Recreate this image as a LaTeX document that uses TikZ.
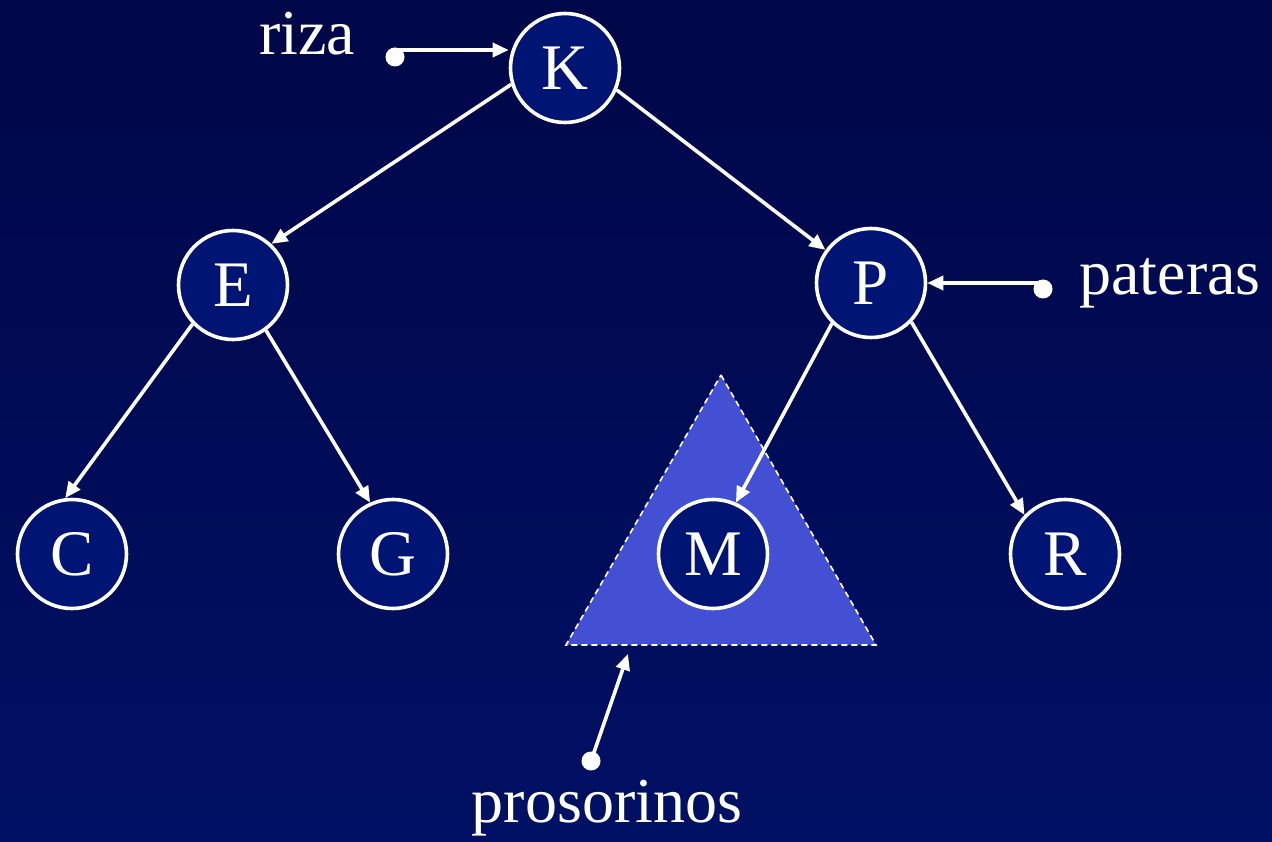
\documentclass[tikz,border=0pt]{standalone}
\usepackage{fontspec}
\setmainfont{Liberation Serif}
\usetikzlibrary{arrows.meta}
\definecolor{bgtop}{RGB}{0,7,72}
\definecolor{bgbot}{RGB}{0,16,100}
\definecolor{nodefill}{RGB}{0,20,115}
\definecolor{trifill}{RGB}{68,80,212}
\tikzset{
  treenode/.style={circle, draw=white, line width=3.6pt, fill=nodefill, minimum size=109pt, inner sep=0pt, text=white, font=\fontsize{65}{65}\selectfont},
  edge/.style={draw=white, line width=3.6pt, -{Triangle[length=16pt,width=14pt]}},
  lbl/.style={text=white, font=\fontsize{64}{64}\selectfont, anchor=base, inner sep=0pt},
  dot/.style={circle, fill=white, minimum size=19pt, inner sep=0pt}
}
\begin{document}
\begin{tikzpicture}[x=1pt,y=-1pt]
\useasboundingbox (0,0) rectangle (1272,842);
\shade[top color=bgtop, bottom color=bgbot] (0,0) rectangle (1272,842);
% subtree triangle
\draw[fill=trifill, draw=white, line width=1.6pt, dash pattern=on 6pt off 4pt] (721,375) -- (876,645) -- (566,645) -- cycle;
% nodes
\node[treenode] (K) at (565,68) {K};
\node[treenode] (E) at (233,285) {E};
\node[treenode] (P) at (871,283) {P};
\node[treenode] (C) at (72,554) {C};
\node[treenode] (G) at (393,554) {G};
\node[treenode] (M) at (713,554) {M};
\node[treenode] (R) at (1065,554) {R};
% edges
\draw[edge] (K.197) -- (E.47);
\draw[edge] (K.337) -- (P.144);
\draw[edge] (E.224) -- (C.97);
\draw[edge] (E.306) -- (G.114);
\draw[edge] (P.226) -- (M.66);
\draw[edge] (P.316) -- (R.136);
% pointers
\node[lbl] (riza) at (307,55) {riza};
\node[dot] (d1) at (395,57) {};
\coordinate (s1) at (395,50);
\draw[edge] (s1) -- (K.west |- s1);
\node[lbl] (pat) at (1170,295) {pateras};
\node[dot] (d2) at (1043,289) {};
\coordinate (s2) at (1043,283);
\draw[edge] (s2) -- (P.east);
\node[lbl] (pros) at (607,822) {prosorinos};
\node[dot] (d3) at (591,761) {};
\coordinate (t3) at (628,654);
\draw[edge] (d3.center) -- (t3);
\end{tikzpicture}
\end{document}
